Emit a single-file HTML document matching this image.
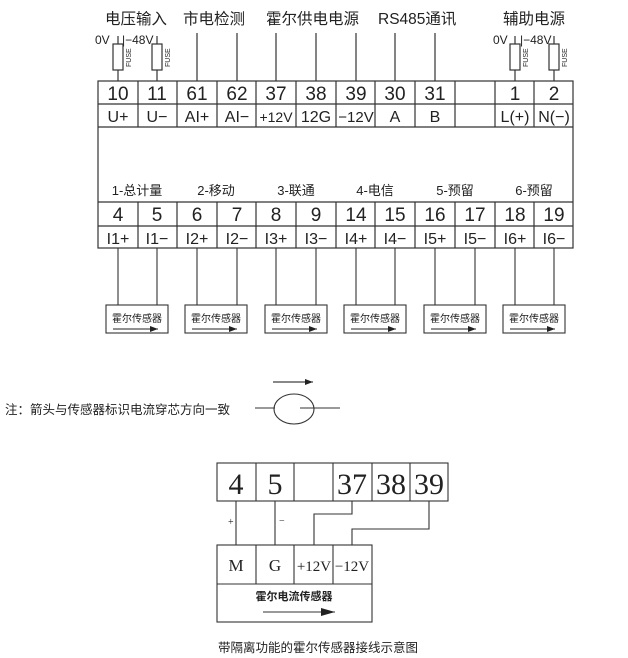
<!DOCTYPE html>
<html><head><meta charset="utf-8"><style>
body{margin:0;background:#fff;}
svg{display:block;}
text{font-family:"Liberation Sans","Noto Sans CJK SC",sans-serif;fill:#222;}
.n text{font-family:"Liberation Sans Narrow","Liberation Sans",sans-serif;}
.s text{font-family:"Liberation Serif","Noto Serif CJK SC",serif;}
</style></head><body>
<svg width="628" height="658" viewBox="0 0 628 658" xmlns="http://www.w3.org/2000/svg">
<defs><marker id="ah" markerWidth="8" markerHeight="6" refX="8" refY="3" orient="auto" markerUnits="userSpaceOnUse"><path d="M0,0L8,3L0,6z" fill="#222"/></marker>
<marker id="ah2" markerWidth="14" markerHeight="8" refX="14" refY="4" orient="auto" markerUnits="userSpaceOnUse"><path d="M0,0L14,4L0,8z" fill="#222"/></marker></defs>
<g font-size="15.5">
<text x="105" y="24">电压输入</text><text x="183" y="24">市电检测</text><text x="266" y="24">霍尔供电电源</text><text x="378" y="24">RS485通讯</text><text x="503" y="24">辅助电源</text>
</g>
<g font-size="12" class="n">
<text x="95" y="44">0V</text><text x="122" y="44">|−48V</text>
<text x="493" y="44">0V</text><text x="520" y="44">|−48V</text>
</g>
<g stroke="#333" stroke-width="1.2" fill="none">
<line x1="118" y1="36" x2="118" y2="81"/><line x1="157" y1="36" x2="157" y2="81"/>
<line x1="197" y1="33" x2="197" y2="81"/><line x1="237" y1="33" x2="237" y2="81"/>
<line x1="276" y1="33" x2="276" y2="81"/><line x1="316" y1="33" x2="316" y2="81"/>
<line x1="356" y1="33" x2="356" y2="81"/><line x1="395" y1="33" x2="395" y2="81"/>
<line x1="435" y1="33" x2="435" y2="81"/>
<line x1="515" y1="36" x2="515" y2="81"/><line x1="554" y1="36" x2="554" y2="81"/>
<rect x="113" y="44" width="10" height="26" fill="#fff"/><rect x="152" y="44" width="10" height="26" fill="#fff"/>
<rect x="510" y="44" width="10" height="26" fill="#fff"/><rect x="549" y="44" width="10" height="26" fill="#fff"/>
<rect x="98" y="81" width="475" height="167"/>
<line x1="98" y1="104" x2="573" y2="104"/><line x1="98" y1="127" x2="573" y2="127"/>
<line x1="98" y1="202" x2="573" y2="202"/><line x1="98" y1="226" x2="573" y2="226"/>
</g>
<g font-size="7" class="n">
<text transform="translate(131,67) rotate(-90)">FUSE</text><text transform="translate(170,67) rotate(-90)">FUSE</text>
<text transform="translate(528,67) rotate(-90)">FUSE</text><text transform="translate(567,67) rotate(-90)">FUSE</text>
</g>
<g stroke="#333" stroke-width="1.2">
<line x1="138" y1="81" x2="138" y2="127"/><line x1="177" y1="81" x2="177" y2="127"/><line x1="217" y1="81" x2="217" y2="127"/><line x1="256" y1="81" x2="256" y2="127"/><line x1="296" y1="81" x2="296" y2="127"/><line x1="336" y1="81" x2="336" y2="127"/><line x1="375" y1="81" x2="375" y2="127"/><line x1="415" y1="81" x2="415" y2="127"/><line x1="455" y1="81" x2="455" y2="127"/><line x1="495" y1="81" x2="495" y2="127"/><line x1="534" y1="81" x2="534" y2="127"/>
<line x1="138" y1="202" x2="138" y2="248"/><line x1="177" y1="202" x2="177" y2="248"/><line x1="217" y1="202" x2="217" y2="248"/><line x1="256" y1="202" x2="256" y2="248"/><line x1="296" y1="202" x2="296" y2="248"/><line x1="336" y1="202" x2="336" y2="248"/><line x1="375" y1="202" x2="375" y2="248"/><line x1="415" y1="202" x2="415" y2="248"/><line x1="455" y1="202" x2="455" y2="248"/><line x1="495" y1="202" x2="495" y2="248"/><line x1="534" y1="202" x2="534" y2="248"/>
</g>
<g font-size="19" text-anchor="middle" class="n">
<text x="118" y="100">10</text><text x="157" y="100">11</text><text x="197" y="100">61</text><text x="237" y="100">62</text><text x="276" y="100">37</text><text x="316" y="100">38</text><text x="356" y="100">39</text><text x="395" y="100">30</text><text x="435" y="100">31</text><text x="515" y="100">1</text><text x="554" y="100">2</text>
<text x="118" y="221">4</text><text x="157" y="221">5</text><text x="197" y="221">6</text><text x="237" y="221">7</text><text x="276" y="221">8</text><text x="316" y="221">9</text><text x="356" y="221">14</text><text x="395" y="221">15</text><text x="435" y="221">16</text><text x="475" y="221">17</text><text x="515" y="221">18</text><text x="554" y="221">19</text>
</g>
<g font-size="16" text-anchor="middle" class="n">
<text x="118" y="122">U+</text><text x="157" y="122">U−</text><text x="197" y="122">AI+</text><text x="237" y="122">AI−</text><text x="276" y="122" font-size="14">+12V</text><text x="316" y="122">12G</text><text x="356" y="122" font-size="15">−12V</text><text x="395" y="122">A</text><text x="435" y="122">B</text><text x="515" y="122">L(+)</text><text x="554" y="122">N(−)</text>
<text x="118" y="244">I1+</text><text x="157" y="244">I1−</text><text x="197" y="244">I2+</text><text x="237" y="244">I2−</text><text x="276" y="244">I3+</text><text x="316" y="244">I3−</text><text x="356" y="244">I4+</text><text x="395" y="244">I4−</text><text x="435" y="244">I5+</text><text x="475" y="244">I5−</text><text x="515" y="244">I6+</text><text x="554" y="244">I6−</text>
</g>
<g font-size="13" text-anchor="middle">
<text x="137" y="195">1-总计量</text><text x="216" y="195">2-移动</text><text x="296" y="195">3-联通</text><text x="375" y="195">4-电信</text><text x="455" y="195">5-预留</text><text x="534" y="195">6-预留</text>
</g>
<g stroke="#333" stroke-width="1.1" fill="none">
<path d="M118 248V305M157 248V305M197 248V305M237 248V305M276 248V305M316 248V305M356 248V305M395 248V305M435 248V305M475 248V305M515 248V305M554 248V305"/>
<rect x="106" y="305" width="62" height="28"/><rect x="185" y="305" width="62" height="28"/><rect x="265" y="305" width="62" height="28"/><rect x="344" y="305" width="62" height="28"/><rect x="424" y="305" width="62" height="28"/><rect x="503" y="305" width="62" height="28"/>
</g>
<g stroke="#222" stroke-width="1" marker-end="url(#ah)">
<line x1="113" y1="329" x2="158" y2="329"/><line x1="192" y1="329" x2="237" y2="329"/><line x1="272" y1="329" x2="317" y2="329"/><line x1="351" y1="329" x2="396" y2="329"/><line x1="431" y1="329" x2="476" y2="329"/><line x1="510" y1="329" x2="555" y2="329"/>
</g>
<g font-size="10" text-anchor="middle">
<text x="137" y="322">霍尔传感器</text><text x="216" y="322">霍尔传感器</text><text x="296" y="322">霍尔传感器</text><text x="375" y="322">霍尔传感器</text><text x="455" y="322">霍尔传感器</text><text x="534" y="322">霍尔传感器</text>
</g>
<text x="5" y="414" font-size="12.5">注：箭头与传感器标识电流穿芯方向一致</text>
<g stroke="#333" stroke-width="1.1" fill="none">
<line x1="255" y1="408" x2="275" y2="408"/><ellipse cx="294" cy="409" rx="20" ry="15"/><line x1="300" y1="408" x2="340" y2="408"/>
<line x1="273" y1="382" x2="313" y2="382" marker-end="url(#ah)" stroke="#111"/>
</g>
<g stroke="#333" stroke-width="1.1" fill="none">
<rect x="217" y="463" width="231" height="38"/>
<path d="M256 463V501M294 463V501M333 463V501M372 463V501M410 463V501"/>
<path d="M236 501V545M275 501V545M352 501V514H314V545M429 501V529H352V545"/>
<rect x="217" y="545" width="155" height="77"/>
<path d="M217 584H372M256 545V584M294 545V584M333 545V584"/>
<line x1="263" y1="612" x2="335" y2="612" marker-end="url(#ah2)"/>
</g>
<g class="s" font-size="30" text-anchor="middle">
<text x="236" y="494">4</text><text x="275" y="494">5</text><text x="352" y="494">37</text><text x="391" y="494">38</text><text x="429" y="494">39</text>
</g>
<g class="s" font-size="10"><text x="228" y="525">+</text><text x="279" y="524">−</text></g>
<g class="s" font-size="17" text-anchor="middle">
<text x="236" y="571">M</text><text x="275" y="571">G</text><text x="314" y="571" font-size="15">+12V</text><text x="352" y="571" font-size="15">−12V</text>
</g>
<text x="294" y="600" font-size="11" font-weight="bold" text-anchor="middle">霍尔电流传感器</text>
<text x="318" y="652" font-size="12.5" text-anchor="middle">带隔离功能的霍尔传感器接线示意图</text>
</svg>
</body></html>
